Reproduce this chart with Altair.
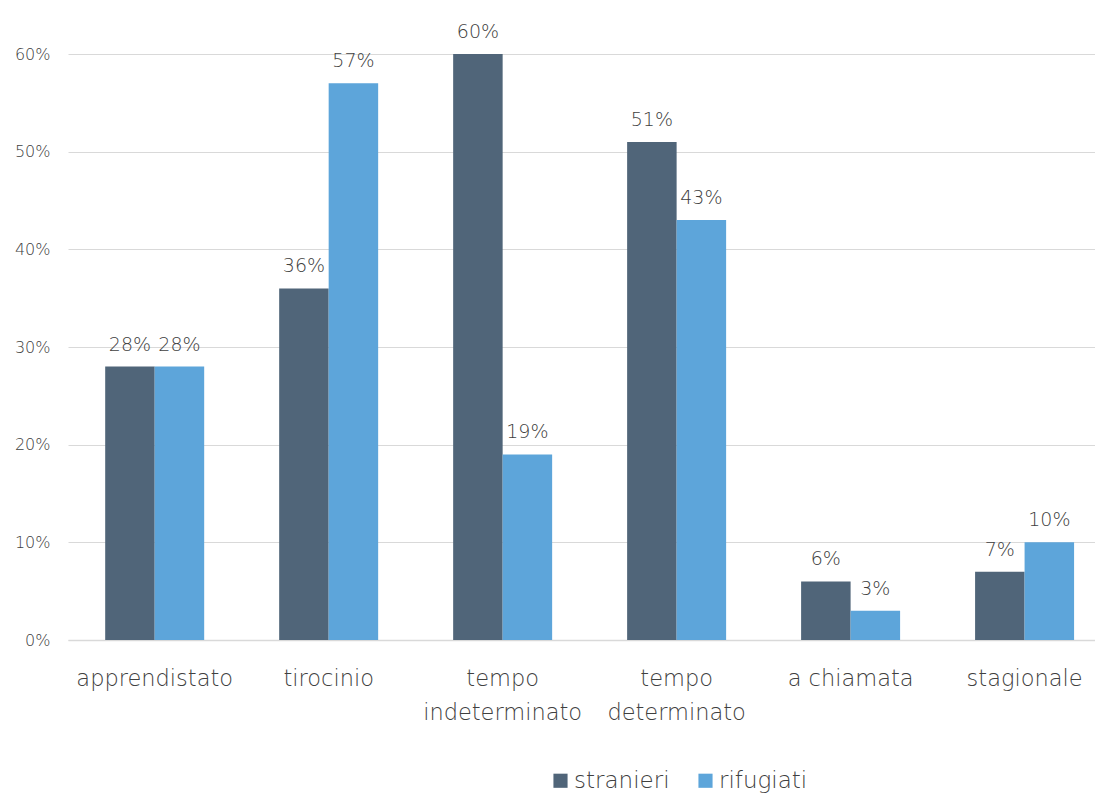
import altair as alt
import pandas as pd

categories = ["apprendistato", "tirocinio", "tempo|indeterminato", "tempo|determinato", "a chiamata", "stagionale"]
stranieri = [0.28, 0.36, 0.60, 0.51, 0.06, 0.07]
rifugiati = [0.28, 0.57, 0.19, 0.43, 0.03, 0.10]
series = ["stranieri", "rifugiati"]
colors = ["#506579", "#5DA5DA"]

rows = []
for i, c in enumerate(categories):
    rows.append({"cat": c, "serie": "stranieri", "v": stranieri[i], "o": 0})
    rows.append({"cat": c, "serie": "rifugiati", "v": rifugiati[i], "o": 1})
df = pd.DataFrame(rows)

FONT = "DejaVu Sans"
FW = 200
TXT = "#404040"

base = alt.Chart(df).encode(
    x=alt.X("cat:N", sort=categories,
            scale=alt.Scale(paddingInner=0.431, paddingOuter=0.167, align=0.64),
            axis=alt.Axis(title=None, labelAngle=0, labelExpr="split(datum.label, '|')",
                          labelFontSize=22.5, labelColor=TXT, labelFont=FONT, labelFontWeight=FW,
                          labelPadding=38, labelLineHeight=34, ticks=False, grid=False,
                          domainColor="#D9D9D9", domainWidth=1.5, labelBaseline="middle")),
    xOffset=alt.XOffset("serie:N", sort=series, scale=alt.Scale(paddingInner=0, paddingOuter=0)),
    y=alt.Y("v:Q", scale=alt.Scale(domain=[0, 0.6]),
            axis=alt.Axis(title=None, format=".0%", values=[0, 0.1, 0.2, 0.3, 0.4, 0.5, 0.6],
                          labelFontSize=16, labelColor=TXT, labelFont=FONT, labelFontWeight=FW,
                          labelPadding=18, ticks=False, domain=False,
                          gridColor="#D9D9D9", gridWidth=1.2)),
)

bars = base.mark_bar().encode(
    color=alt.Color("serie:N", sort=series, scale=alt.Scale(domain=series, range=colors),
                    legend=alt.Legend(title=None, orient="none", direction="horizontal",
                                      legendX=481, legendY=715, symbolType="square",
                                      symbolSize=200, symbolStrokeWidth=0,
                                      labelFontSize=23, labelColor=TXT, labelFont=FONT,
                                      labelFontWeight=FW, columnPadding=24, labelOffset=2))
)

labels = base.mark_text(baseline="bottom", dy=-12, fontSize=19, color=TXT, font=FONT,
                        fontWeight=FW).encode(
    text=alt.Text("v:Q", format=".0%")
)

chart = (bars + labels).properties(
    width=1027, height=586,
    background="white",
    autosize=alt.AutoSizeParams(type="none"),
    padding={"left": 68, "top": 54, "right": 0, "bottom": 154},
).configure_view(stroke="transparent", strokeWidth=0)

chart.save("out.html", embed_options={"renderer": "svg", "actions": False})
